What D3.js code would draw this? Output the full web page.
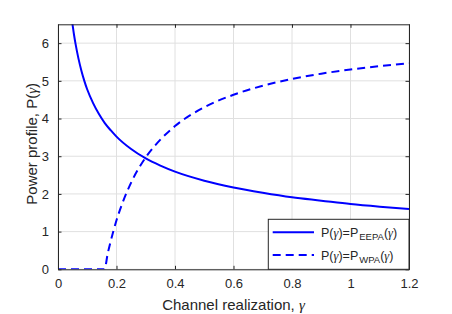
<!DOCTYPE html>
<html>
<head>
<meta charset="utf-8">
<script src="https://cdn.jsdelivr.net/npm/d3@7"></script>
<style>
  html, body { margin: 0; padding: 0; background: #fff; }
  svg { display: block; font-family: "Liberation Sans", Arial, sans-serif; }
</style>
</head>
<body>
<svg id="chart" width="452" height="314"></svg>
<script>
// ---- data ----
const gammaEEPA = [0.048, 0.05, 0.055, 0.06, 0.07, 0.08, 0.09, 0.10, 0.12, 0.14, 0.16, 0.18, 0.20, 0.25, 0.30, 0.35, 0.40, 0.50, 0.60, 0.70, 0.80, 0.90, 1.00, 1.10, 1.20];
const powerEEPA = [6.59, 6.48, 6.21, 5.98, 5.59, 5.27, 5.00, 4.77, 4.41, 4.12, 3.88, 3.69, 3.52, 3.19, 2.94, 2.75, 2.59, 2.35, 2.17, 2.03, 1.91, 1.82, 1.73, 1.66, 1.60];

const gammaWPA = [0, 0.05, 0.10, 0.159, 0.17, 0.18, 0.20, 0.22, 0.25, 0.30, 0.35, 0.40, 0.50, 0.60, 0.70, 0.80, 0.90, 1.00, 1.10, 1.20];
const powerWPA = [0, 0, 0, 0, 0.42, 0.74, 1.30, 1.75, 2.30, 2.97, 3.44, 3.80, 4.30, 4.63, 4.87, 5.05, 5.19, 5.30, 5.39, 5.47];

const xTicks = [0, 0.2, 0.4, 0.6, 0.8, 1, 1.2];
const yTicks = [0, 1, 2, 3, 4, 5, 6];
const seriesLabels = ["EEPA", "WPA"];

// ---- layout ----
const svg = d3.select("#chart");
const L = 58, R = 409, T = 24.3, B = 269.3;
const axisColor = "#262626";
const blue = "#0000ff";

const x = d3.scaleLinear().domain([0, 1.2]).range([L, R]);
const y = d3.scaleLinear().domain([0, 6.5]).range([B, T]);

svg.append("rect").attr("x", L).attr("y", T).attr("width", R - L).attr("height", B - T).attr("fill", "#fff");

// grid
const grid = svg.append("g");
grid.selectAll(".gx").data(xTicks).enter().append("line")
  .attr("x1", d => x(d)).attr("x2", d => x(d)).attr("y1", T).attr("y2", B)
  .attr("stroke", "#e0e0e0").attr("stroke-width", 1);
grid.selectAll(".gy").data(yTicks).enter().append("line")
  .attr("y1", d => y(d)).attr("y2", d => y(d)).attr("x1", L).attr("x2", R)
  .attr("stroke", "#e0e0e0").attr("stroke-width", 1);

// clip
svg.append("clipPath").attr("id", "plotclip").append("rect")
  .attr("x", L).attr("y", T).attr("width", R - L).attr("height", B - T);

const line = d3.line().x(d => x(d[0])).y(d => y(d[1])).curve(d3.curveMonotoneX);

const plot = svg.append("g").attr("clip-path", "url(#plotclip)");
plot.append("path")
  .datum(gammaEEPA.map((g, i) => [g, powerEEPA[i]]))
  .attr("d", line).attr("fill", "none").attr("stroke", blue).attr("stroke-width", 2);
plot.append("path")
  .datum(gammaWPA.map((g, i) => [g, powerWPA[i]]))
  .attr("d", line).attr("fill", "none").attr("stroke", blue).attr("stroke-width", 2)
  .attr("stroke-dasharray", "8,5");

// axes (MATLAB-style: ticks inward, box)
const tickLen = 3.5;
const xAxisB = d3.axisBottom(x).tickValues(xTicks).tickSizeInner(-tickLen).tickSizeOuter(0).tickPadding(9)
  .tickFormat(d => String(d));
const xAxisT = d3.axisTop(x).tickValues(xTicks).tickSizeInner(-tickLen).tickSizeOuter(0).tickFormat("");
const yAxisL = d3.axisLeft(y).tickValues(yTicks).tickSizeInner(-tickLen).tickSizeOuter(0).tickPadding(9)
  .tickFormat(d => String(d));
const yAxisR = d3.axisRight(y).tickValues(yTicks).tickSizeInner(-tickLen).tickSizeOuter(0).tickFormat("");

function style(g) {
  g.select(".domain").attr("stroke", axisColor).attr("stroke-width", 1);
  g.selectAll(".tick line").attr("stroke", axisColor).attr("stroke-width", 1);
  g.selectAll(".tick text").attr("fill", axisColor).attr("font-size", 13)
    .attr("font-family", "Liberation Sans, Arial, sans-serif");
}
svg.append("g").attr("transform", `translate(0,${B})`).call(xAxisB).call(style);
svg.append("g").attr("transform", `translate(0,${T})`).call(xAxisT).call(style);
svg.append("g").attr("transform", `translate(${L},0)`).call(yAxisL).call(style);
svg.append("g").attr("transform", `translate(${R},0)`).call(yAxisR).call(style);

// axis labels
const xl = svg.append("text").attr("x", (L + R) / 2).attr("y", 310).attr("text-anchor", "middle")
  .attr("font-size", 15).attr("fill", axisColor);
xl.append("tspan").text("Channel realization, ");
xl.append("tspan").attr("font-family", "Liberation Serif, serif").attr("font-style", "italic").text("γ");

const yl = svg.append("text").attr("transform", `translate(37,${(T + B) / 2 - 3}) rotate(-90)`)
  .attr("text-anchor", "middle").attr("font-size", 15).attr("fill", axisColor);
yl.append("tspan").text("Power profile, P(");
yl.append("tspan").attr("font-family", "Liberation Serif, serif").attr("font-style", "italic").text("γ");
yl.append("tspan").text(")");

// legend
const lgX = 268.3, lgY = 219.3;
const lg = svg.append("g");
lg.append("rect").attr("x", lgX).attr("y", lgY).attr("width", R - lgX).attr("height", B - lgY)
  .attr("fill", "#fff").attr("stroke", axisColor).attr("stroke-width", 1);
const rows = [
  { label: seriesLabels[0], dash: null, yy: 232.3 },
  { label: seriesLabels[1], dash: "8,5", yy: 255 }
];
rows.forEach(r => {
  lg.append("line").attr("x1", 272.7).attr("x2", 314).attr("y1", r.yy).attr("y2", r.yy)
    .attr("stroke", blue).attr("stroke-width", 2).attr("stroke-dasharray", r.dash);
  const t = lg.append("text").attr("x", 321).attr("y", r.yy + 4.5).attr("font-size", 12.5).attr("fill", axisColor);
  t.append("tspan").text("P(");
  t.append("tspan").attr("font-family", "Liberation Serif, serif").attr("font-style", "italic").text("γ");
  t.append("tspan").text(")=P");
  t.append("tspan").attr("font-size", 9.5).attr("dy", 3.5).attr("dx", 1).text(r.label);
  t.append("tspan").attr("dy", -3.5).text("(");
  t.append("tspan").attr("font-family", "Liberation Serif, serif").attr("font-style", "italic").text("γ");
  t.append("tspan").text(")");
});
</script>
</body>
</html>
